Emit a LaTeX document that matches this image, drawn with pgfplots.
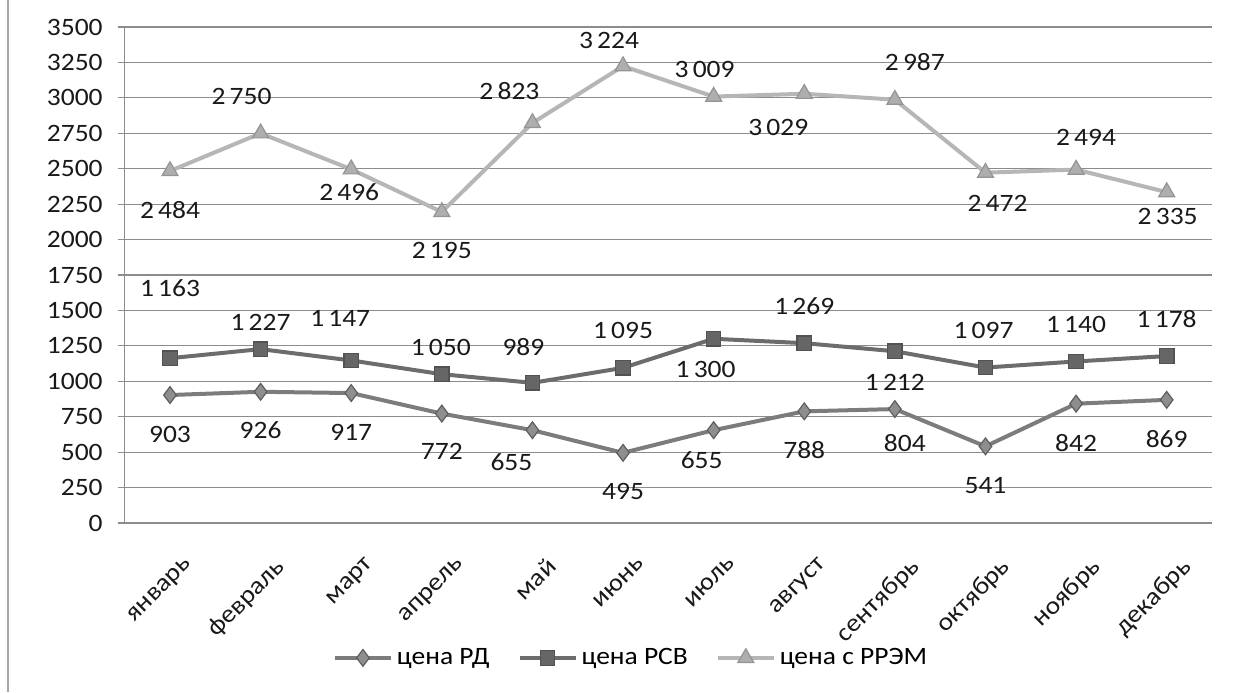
\documentclass[border=0pt]{standalone}
\usepackage{pgfplots}
\pgfplotsset{compat=1.18}
\usepackage{pgfplotstable}
\usepackage{fontspec}
\setmainfont{Carlito}[FakeStretch=1.1]
\definecolor{rdline}{HTML}{7C7C7C}
\definecolor{rdfill}{HTML}{8E8E8E}
\definecolor{rddraw}{HTML}{5E5E5E}
\definecolor{rsvline}{HTML}{6C6C6C}
\definecolor{rsvfill}{HTML}{666666}
\definecolor{rrline}{HTML}{B6B6B6}
\definecolor{rrfill}{HTML}{AEAEAE}
\definecolor{gridc}{HTML}{8C8C8C}

\pgfplotstableread{
x y dx dy
0 903 0 -19.5
1 926 0 -19
2 917 0 -19.5
3 772 0 -19
4 655 -10.5 -16
5 495 0 -19.5
6 655 -6 -15
7 788 0 -19.5
8 804 5 -17
9 541 0 -19.5
10 842 0 -19.5
11 869 0 -19.5
}\rdtab

\pgfplotstableread{
x y dx dy
0 1163 0 35
1 1227 0 13.5
2 1147 -5.5 21
3 1050 -0.5 13.5
4 989 -4.5 18
5 1095 0 18.5
6 1300 -4 -15.5
7 1269 0 18.5
8 1212 0 -15.5
9 1097 -1 18.5
10 1140 0 18.5
11 1178 0 18.5
}\rsvtab

\pgfplotstableread{
x y dx dy
0 2484 0 -19.5
1 2750 -9.5 18.5
2 2496 -1 -11.5
3 2195 0 -19.5
4 2823 -11.5 16
5 3224 -7 13
6 3009 -4.5 13.5
7 3029 -13 -17
8 2987 10 19
9 2472 6 -15.5
10 2494 5 16
11 2335 0.5 -12
}\rrtab

\begin{document}
\begin{tikzpicture}
\useasboundingbox (-62.35pt,-84.5pt) rectangle (556.15pt,261.5pt);
\draw[gray!70, line width=0.7pt] (-58.35pt,-84.5pt) -- (-58.35pt,261.5pt);
\begin{axis}[
  at={(0pt,0pt)}, anchor=south west,
  scale only axis, width=543.65pt, height=248pt,
  xmin=-0.5, xmax=11.5, ymin=0, ymax=3500,
  axis x line*=bottom, axis y line*=left,
  axis line style={gridc, line width=0.6pt, -},
  ytick={0,250,...,3500},
  ymajorgrids, grid style={gridc, line width=0.6pt},
  xtick={0,...,11},
  xticklabels={январь,февраль,март,апрель,май,июнь,июль,август,сентябрь,октябрь,ноябрь,декабрь},
  x tick style={draw=none},
  y tick style={gridc, line width=0.6pt},
  tick align=outside, major tick length=3.5pt,
  extra x ticks={-0.5,0.5,...,11.5},
  extra x tick labels={},
  extra x tick style={grid=none, tick style={draw=gridc, line width=0.6pt}, major tick length=3.5pt},
  /pgf/number format/assume math mode=true,
  /pgf/number format/1000 sep={},
  ticklabel style={font=\fontsize{12.5}{14}\selectfont, text=black!90},
  yticklabel style={xshift=-4pt},
  xticklabel style={rotate=45, anchor=north east, xshift=-1pt, yshift=-10.5pt},
  point meta=y,
  nodes near coords={\pgfmathprintnumber[fixed,precision=0,1000 sep={\,},assume math mode=true]{\pgfplotspointmeta}},
  every node near coord/.append style={font=\fontsize{12.5}{14}\selectfont, text=black!90, inner sep=0pt},
  legend columns=3,
  legend style={at={(0.4666,-0.272)}, anchor=center, draw=none, fill=none,
    font=\fontsize{12.5}{14}\selectfont,
    /tikz/every even column/.append style={column sep=12pt}},
  legend cell align=left,
  legend image code/.code={\draw[mark repeat=2,mark phase=2,#1] plot coordinates {(0pt,0pt) (14pt,0pt) (28pt,0pt)};},
]
\addplot[rdline, line width=2pt, mark=diamond*, mark size=4.2pt,
  mark options={fill=rdfill, draw=rddraw, line width=0.6pt},
  visualization depends on={\thisrow{dx}\as\dx},
  visualization depends on={\thisrow{dy}\as\dy},
  every node near coord/.append style={anchor=center, xshift=\dx pt, yshift=\dy pt}]
  table[x=x,y=y]{\rdtab};
\addlegendentry{цена РД}
\addplot[rsvline, line width=2pt, mark=square*, mark size=3.6pt,
  mark options={fill=rsvfill, draw=rsvfill!80!black, line width=0.6pt},
  visualization depends on={\thisrow{dx}\as\dx},
  visualization depends on={\thisrow{dy}\as\dy},
  every node near coord/.append style={anchor=center, xshift=\dx pt, yshift=\dy pt}]
  table[x=x,y=y]{\rsvtab};
\addlegendentry{цена РСВ}
\addplot[rrline, line width=2pt, mark=triangle*, mark size=4.6pt,
  mark options={fill=rrfill, draw=rrfill!85!black, line width=0.6pt},
  visualization depends on={\thisrow{dx}\as\dx},
  visualization depends on={\thisrow{dy}\as\dy},
  every node near coord/.append style={anchor=center, xshift=\dx pt, yshift=\dy pt}]
  table[x=x,y=y]{\rrtab};
\addlegendentry{цена с РРЭМ}
\end{axis}
\end{tikzpicture}
\end{document}
